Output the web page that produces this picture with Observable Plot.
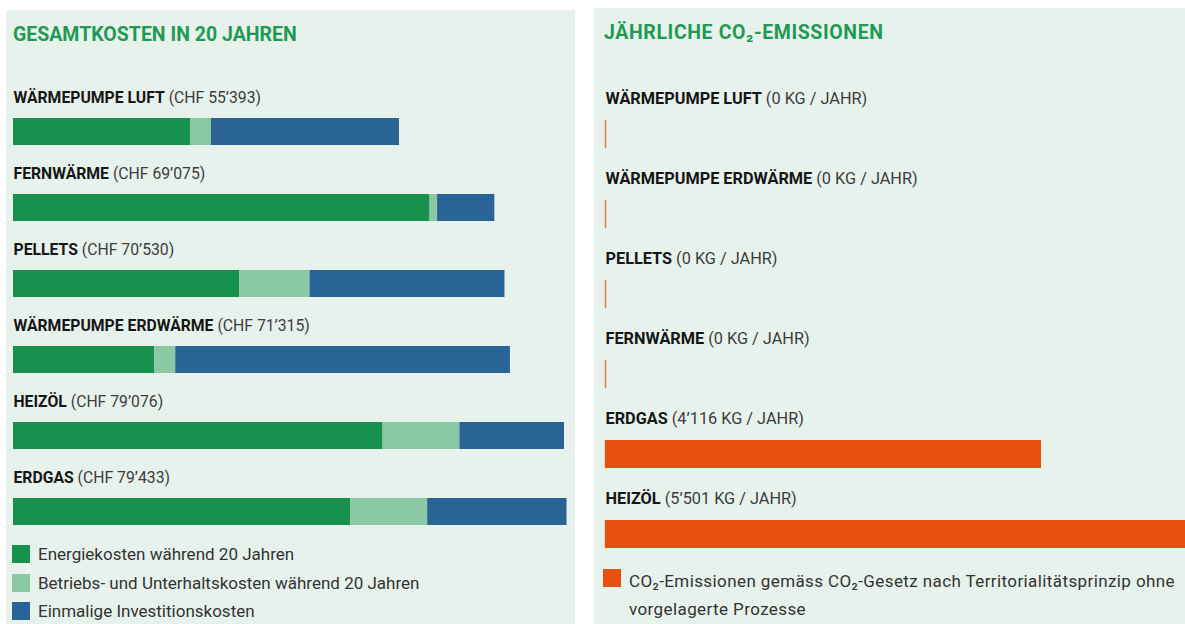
<!DOCTYPE html>
<html>
<head>
<meta charset="utf-8">
<script src="https://cdn.jsdelivr.net/npm/d3@7"></script>
<script src="https://cdn.jsdelivr.net/npm/@observablehq/plot@0.6"></script>
<style>
html, body { margin: 0; padding: 0; background: #fff; width: 1185px; height: 624px; overflow: hidden; }
body { position: relative; font-family: Roboto, "Noto Sans", sans-serif; }
.panel { position: absolute; background: #e8f2ec; overflow: hidden; }
#left { left: 6px; top: 10px; width: 569px; height: 614px; }
#right { left: 594px; top: 8px; width: 591px; height: 616px; }
.title { position: absolute; left: 7px; top: 15px; font-size: 19.5px; line-height: 19px; font-weight: 700; color: #1f9a55; white-space: nowrap; }
#right .title { left: 10px; letter-spacing: 0.6px; }
.chart { position: absolute; left: 0; top: 0; }
.chart svg { max-width: none !important; background: transparent !important; overflow: visible; }
.leg { position: absolute; }
#legL { left: 6px; top: 530px; }
#legR { left: 9px; top: 559px; }
.leg .lg-swatch { padding-bottom: 0 !important; }
#legL .lg-swatch { height: 28.5px; align-items: center !important; }
#legL .lg-swatch > div { line-height: 28.5px; white-space: nowrap !important; overflow: visible !important; }
#legR .lg-swatch { align-items: flex-start !important; }
#legR .lg-swatch > svg { margin-top: 2px; }
#legR .lg-swatch > div { line-height: 28px; white-space: pre-line !important; overflow: visible !important; letter-spacing: 0.4px; }
.leg .lg-swatch > svg { margin-right: 8px !important; }
</style>
</head>
<body>
<div id="left" class="panel">
  <div class="title">GESAMTKOSTEN IN 20 JAHREN</div>
  <div class="chart" id="chartL"></div>
  <div class="leg" id="legL"></div>
</div>
<div id="right" class="panel">
  <div class="title">JÄHRLICHE CO₂-EMISSIONEN</div>
  <div class="chart" id="chartR"></div>
  <div class="leg" id="legR"></div>
</div>
<script>
// ---- Data: total costs over 20 years (CHF) ----
const costCategories = ["WÄRMEPUMPE LUFT", "FERNWÄRME", "PELLETS", "WÄRMEPUMPE ERDWÄRME", "HEIZÖL", "ERDGAS"];
const costTotals = [55393, 69075, 70530, 71315, 79076, 79433];
const energyCost = [25400, 59785, 32457, 20260, 53042, 48417];
const operatingCost = [3014, 1080, 10099, 3025, 11019, 11024];
const investmentCost = [26979, 8210, 27974, 48030, 15015, 19992];
const costSeries = ["Energiekosten während 20 Jahren", "Betriebs- und Unterhaltskosten während 20 Jahren", "Einmalige Investitionskosten"];
const costColors = ["#17924d", "#8bc9a5", "#2a6396"];

// ---- Data: annual CO2 emissions (kg / year) ----
const co2Categories = ["WÄRMEPUMPE LUFT", "WÄRMEPUMPE ERDWÄRME", "PELLETS", "FERNWÄRME", "ERDGAS", "HEIZÖL"];
const co2Values = [0, 0, 0, 0, 4116, 5501];
const co2Series = ["CO₂-Emissionen gemäss CO₂-Gesetz nach Territorialitätsprinzip ohne vorgelagerte Prozesse"];
const co2Colors = ["#e8500f"];

const fmt = d3.formatLocale({decimal: ".", thousands: "’", grouping: [3], currency: ["", ""]}).format(",d");

function richLabels(svg) {
  d3.select(svg).selectAll(`g[aria-label="text"] text`).each(function () {
    const t = this.textContent;
    const k = t.indexOf(" (");
    const sel = d3.select(this);
    sel.text(null);
    sel.append("tspan").attr("font-weight", 700).attr("fill", "#161616").text(t.slice(0, k));
    sel.append("tspan").attr("font-weight", 400).attr("fill", "#3c3c3c").text(t.slice(k));
  });
}

// ---- Left chart ----
const costRows = [];
costCategories.forEach((c, i) => {
  [energyCost[i], operatingCost[i], investmentCost[i]].forEach((v, j) =>
    costRows.push({cat: c, series: costSeries[j], value: v}));
});
const costLabels = costCategories.map((c, i) => ({cat: c, text: `${c} (CHF ${fmt(costTotals[i])})`}));

const left = Plot.plot({
  width: 569,
  height: 520,
  margin: 0,
  x: {domain: [0, 80000], range: [7, 7 + 80000 * 0.006968], axis: null},
  y: {domain: costCategories, range: [107.7, 516.45], paddingInner: 0.6393, paddingOuter: 0, axis: null},
  color: {domain: costSeries, range: costColors},
  style: {background: "transparent", fontFamily: "Roboto, sans-serif"},
  marks: [
    Plot.barX(costRows, {y: "cat", x: "value", fill: "series"}),
    Plot.text(costLabels, {y: "cat", x: 0, text: "text", textAnchor: "start", dy: -34, fontSize: 15.75})
  ]
});
richLabels(left);
document.getElementById("chartL").append(left);

document.getElementById("legL").append(Plot.legend({
  color: {domain: costSeries, range: costColors},
  legend: "swatches",
  columns: 1,
  swatchSize: 18,
  className: "lg",
  style: {fontFamily: "Roboto, sans-serif", fontSize: "17px", color: "#333", background: "transparent", margin: "0"}
}));

// ---- Right chart ----
const co2Rows = co2Categories.map((c, i) => ({
  cat: c, value: co2Values[i], series: co2Series[0],
  text: `${c} (${fmt(co2Values[i])} KG / JAHR)`
}));

const right = Plot.plot({
  width: 600,
  height: 560,
  margin: 0,
  x: {domain: [0, 6000], range: [11, 11 + 6000 * 0.10593], axis: null},
  y: {domain: co2Categories, range: [112, 540], paddingInner: 0.65, paddingOuter: 0, axis: null},
  color: {domain: co2Series, range: co2Colors},
  style: {background: "transparent", fontFamily: "Roboto, sans-serif"},
  marks: [
    Plot.tickX(co2Rows, {x: 0, y: "cat", stroke: co2Colors[0], strokeWidth: 1.5, strokeOpacity: 0.75}),
    Plot.barX(co2Rows, {y: "cat", x: "value", fill: "series"}),
    Plot.text(co2Rows, {y: "cat", x: 0, text: "text", textAnchor: "start", dy: -35.5, fontSize: 16.3})
  ]
});
richLabels(right);
document.getElementById("chartR").append(right);

document.getElementById("legR").append(Plot.legend({
  color: {domain: co2Series, range: co2Colors},
  legend: "swatches",
  columns: 1,
  swatchSize: 18,
  className: "lg",
  tickFormat: d => d.replace(" ohne ", " ohne\n"),
  style: {fontFamily: "Roboto, sans-serif", fontSize: "17px", color: "#333", background: "transparent", margin: "0"}
}));
</script>
</body>
</html>
